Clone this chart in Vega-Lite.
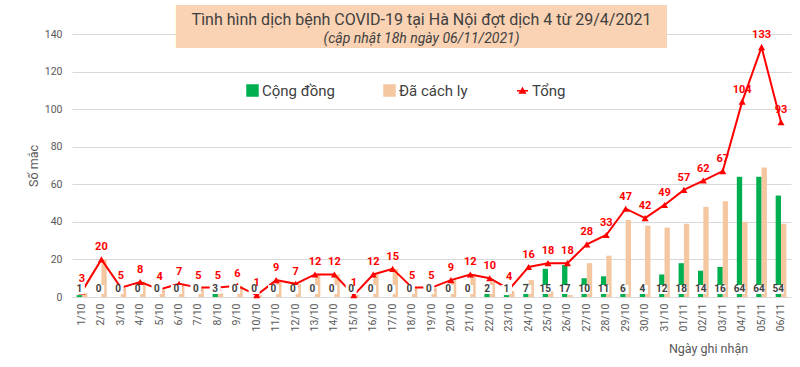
{
  "$schema": "https://vega.github.io/schema/vega-lite/v6.json",
  "width": 719,
  "height": 263,
  "autosize": {"type": "none"},
  "padding": {"left": 72, "top": 34, "right": 9, "bottom": 70},
  "background": "white",
  "title": {
    "text": "Tình hình dịch bệnh COVID-19 tại Hà Nội đợt dịch 4 từ 29/4/2021",
    "subtitle": "(cập nhật 18h ngày 06/11/2021)",
    "anchor": "middle",
    "frame": "group",
    "dx": -10,
    "offset": -41,
    "fontSize": 16,
    "fontWeight": "normal",
    "color": "#404040",
    "subtitleFontSize": 14,
    "subtitleFontStyle": "italic",
    "subtitleColor": "#404040",
    "subtitlePadding": 4
  },
  "config": {
    "font": "Roboto",
    "view": {"stroke": null},
    "axisX": {"labelAngle": -90, "labelFontSize": 10.5, "labelColor": "#595959", "ticks": false, "domain": true, "domainColor": "#d9d9d9", "labelPadding": 6, "grid": false, "titleX": 636, "titleY": 51, "titleAlign": "center", "titleBaseline": "middle", "titleFontSize": 12.5, "titleFontWeight": "normal", "titleColor": "#595959"},
    "axisY": {"grid": true, "gridColor": "#d9d9d9", "domain": false, "ticks": false, "tickCount": 7, "labelFontSize": 10.5, "labelColor": "#595959", "labelPadding": 10, "titleFontSize": 12.5, "titleFontWeight": "normal", "titleColor": "#595959", "titlePadding": 4}
  },
  "data": {"values": [
    {"d": "1/10", "Cộng đồng": 1, "Đã cách ly": 2, "Tổng": 3},
    {"d": "2/10", "Cộng đồng": 0, "Đã cách ly": 20, "Tổng": 20},
    {"d": "3/10", "Cộng đồng": 0, "Đã cách ly": 5, "Tổng": 5},
    {"d": "4/10", "Cộng đồng": 0, "Đã cách ly": 8, "Tổng": 8},
    {"d": "5/10", "Cộng đồng": 0, "Đã cách ly": 4, "Tổng": 4},
    {"d": "6/10", "Cộng đồng": 0, "Đã cách ly": 7, "Tổng": 7},
    {"d": "7/10", "Cộng đồng": 0, "Đã cách ly": 5, "Tổng": 5},
    {"d": "8/10", "Cộng đồng": 3, "Đã cách ly": 2, "Tổng": 5},
    {"d": "9/10", "Cộng đồng": 0, "Đã cách ly": 6, "Tổng": 6},
    {"d": "10/10", "Cộng đồng": 0, "Đã cách ly": 1, "Tổng": 1},
    {"d": "11/10", "Cộng đồng": 0, "Đã cách ly": 9, "Tổng": 9},
    {"d": "12/10", "Cộng đồng": 0, "Đã cách ly": 7, "Tổng": 7},
    {"d": "13/10", "Cộng đồng": 0, "Đã cách ly": 12, "Tổng": 12},
    {"d": "14/10", "Cộng đồng": 0, "Đã cách ly": 12, "Tổng": 12},
    {"d": "15/10", "Cộng đồng": 0, "Đã cách ly": 1, "Tổng": 1},
    {"d": "16/10", "Cộng đồng": 0, "Đã cách ly": 12, "Tổng": 12},
    {"d": "17/10", "Cộng đồng": 0, "Đã cách ly": 15, "Tổng": 15},
    {"d": "18/10", "Cộng đồng": 0, "Đã cách ly": 5, "Tổng": 5},
    {"d": "19/10", "Cộng đồng": 0, "Đã cách ly": 5, "Tổng": 5},
    {"d": "20/10", "Cộng đồng": 0, "Đã cách ly": 9, "Tổng": 9},
    {"d": "21/10", "Cộng đồng": 0, "Đã cách ly": 12, "Tổng": 12},
    {"d": "22/10", "Cộng đồng": 2, "Đã cách ly": 8, "Tổng": 10},
    {"d": "23/10", "Cộng đồng": 1, "Đã cách ly": 3, "Tổng": 4},
    {"d": "24/10", "Cộng đồng": 7, "Đã cách ly": 9, "Tổng": 16},
    {"d": "25/10", "Cộng đồng": 15, "Đã cách ly": 3, "Tổng": 18},
    {"d": "26/10", "Cộng đồng": 17, "Đã cách ly": 1, "Tổng": 18},
    {"d": "27/10", "Cộng đồng": 10, "Đã cách ly": 18, "Tổng": 28},
    {"d": "28/10", "Cộng đồng": 11, "Đã cách ly": 22, "Tổng": 33},
    {"d": "29/10", "Cộng đồng": 6, "Đã cách ly": 41, "Tổng": 47},
    {"d": "30/10", "Cộng đồng": 4, "Đã cách ly": 38, "Tổng": 42},
    {"d": "31/10", "Cộng đồng": 12, "Đã cách ly": 37, "Tổng": 49},
    {"d": "01/11", "Cộng đồng": 18, "Đã cách ly": 39, "Tổng": 57},
    {"d": "02/11", "Cộng đồng": 14, "Đã cách ly": 48, "Tổng": 62},
    {"d": "03/11", "Cộng đồng": 16, "Đã cách ly": 51, "Tổng": 67},
    {"d": "04/11", "Cộng đồng": 64, "Đã cách ly": 40, "Tổng": 104},
    {"d": "05/11", "Cộng đồng": 64, "Đã cách ly": 69, "Tổng": 133},
    {"d": "06/11", "Cộng đồng": 54, "Đã cách ly": 39, "Tổng": 93}
  ]},
  "encoding": {
    "x": {"field": "d", "type": "nominal", "sort": null, "title": "Ngày ghi nhận", "scale": {"paddingInner": 0.45, "paddingOuter": 0.24}}
  },
  "layer": [
    {
      "transform": [{"fold": ["Cộng đồng", "Đã cách ly"], "as": ["series", "value"]}],
      "mark": {"type": "bar"},
      "encoding": {
        "xOffset": {"field": "series", "type": "nominal", "sort": ["Cộng đồng", "Đã cách ly"], "scale": {"paddingInner": 0, "paddingOuter": 0}},
        "y": {"field": "value", "type": "quantitative", "title": "Số mắc", "scale": {"domain": [0, 140], "nice": false}},
        "color": {
          "field": "series", "type": "nominal",
          "scale": {"domain": ["Cộng đồng", "Đã cách ly", "Tổng"], "range": ["#00b050", "#f4c7a1", "#ff0000"]},
          "legend": {
            "title": null, "orient": "none", "legendX": 173, "legendY": 49, "direction": "horizontal",
            "labelFontSize": 15, "labelColor": "#404040", "symbolSize": 121, "labelOffset": 2, "columnPadding": 46,
            "encode": {"symbols": {"update": {
              "shape": {"signal": "datum.value === 'Tổng' ? 'M-1,0L1,0M-0.5,0.4L0,-0.45L0.5,0.4Z' : 'square'"},
              "stroke": {"signal": "datum.value === 'Tổng' ? '#ff0000' : 'transparent'"},
              "strokeWidth": {"value": 1.5},
              "opacity": {"value": 1}
            }}}
          }
        }
      }
    },
    {
      "mark": {"type": "line", "strokeWidth": 2},
      "encoding": {
        "y": {"field": "Tổng", "type": "quantitative", "title": "Số mắc"},
        "color": {"datum": "Tổng"}
      }
    },
    {
      "mark": {"type": "point", "shape": "triangle-up", "filled": true, "size": 50, "opacity": 1},
      "encoding": {
        "y": {"field": "Tổng", "type": "quantitative", "title": "Số mắc"},
        "color": {"datum": "Tổng"}
      }
    },
    {
      "mark": {"type": "bar", "color": "white", "width": 11},
      "encoding": {
        "xOffset": {"datum": "Cộng đồng"},
        "y": {"datum": 1.6, "type": "quantitative", "title": "Số mắc"},
        "y2": {"datum": 6.4}
      }
    },
    {
      "mark": {"type": "text", "fontWeight": "bold", "fontSize": 11, "color": "#ff0000", "baseline": "bottom", "dy": -7},
      "encoding": {
        "y": {"field": "Tổng", "type": "quantitative", "title": "Số mắc"},
        "text": {"field": "Tổng", "type": "quantitative"}
      }
    },
    {
      "mark": {"type": "text", "fontWeight": "bold", "fontSize": 10, "color": "#404040", "baseline": "middle", "dy": 0},
      "encoding": {
        "xOffset": {"datum": "Cộng đồng"},
        "y": {"datum": 4, "type": "quantitative", "title": "Số mắc"},
        "text": {"field": "Cộng đồng", "type": "quantitative"}
      }
    },
    {
      "mark": {"type": "rect", "color": "#fad3b4"},
      "encoding": {
        "x": {"datum": "6/10", "bandPosition": 0.21, "title": "Ngày ghi nhận"},
        "x2": {"datum": "31/10", "bandPosition": 0.73},
        "y": {"datum": 155.4, "type": "quantitative", "title": "Số mắc"},
        "y2": {"datum": 132.5}
      }
    }
  ]
}
